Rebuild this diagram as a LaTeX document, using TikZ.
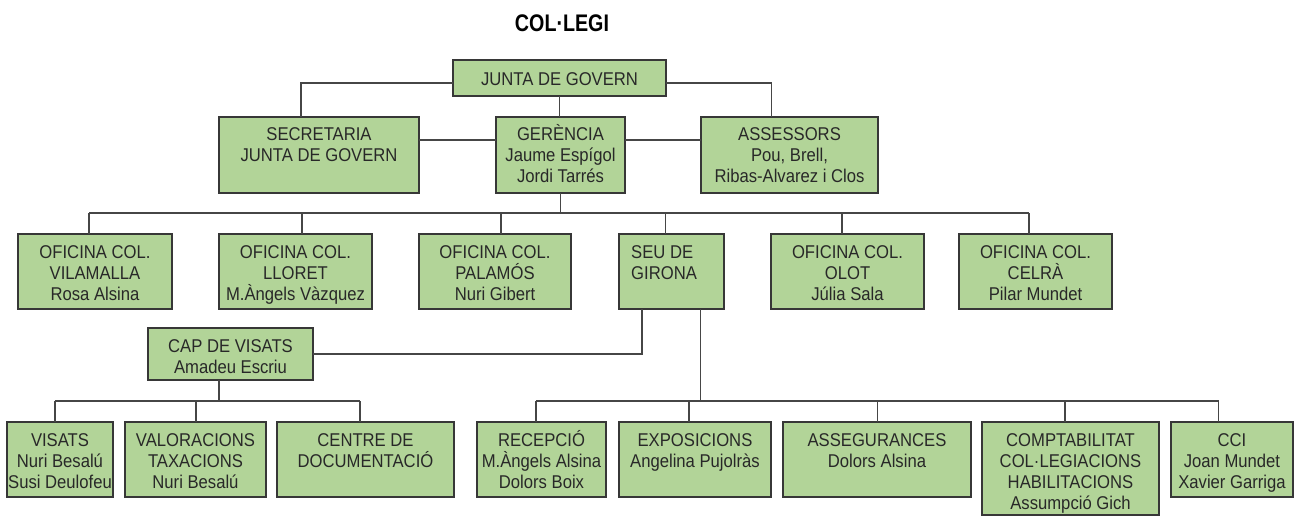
\documentclass[tikz,border=0pt]{standalone}
\usepackage{fontspec}
\usepackage{graphicx}
\setmainfont{Liberation Sans}[FakeStretch=0.9]
\newfontfamily\titlefont{Liberation Sans}[FakeStretch=0.82]
\definecolor{boxgreen}{RGB}{178,212,152}
\definecolor{boxline}{RGB}{55,55,55}
\definecolor{connline}{RGB}{70,70,70}
\definecolor{txtcol}{RGB}{40,40,40}
\newcommand\tstrut{\rule{0pt}{16pt}}
\tikzset{
  orgbox/.style={draw=boxline, line width=1.2pt, fill=boxgreen, inner sep=0pt, outer sep=0pt},
  orgtxt/.style={inner sep=0pt, align=center, text=txtcol, font=\fontsize{18.5}{21}\selectfont},
  conn/.style={draw=connline, line width=1.2pt}
}
\newcommand\obox[7][]{%
  \node[orgbox, minimum width={(#5-#3)*1pt}, minimum height={(#6-#4)*1pt}] (#2) at ({(#3+#5)/2},{(#4+#6)/2}) {};
  \node[orgtxt, anchor=north, #1] (#2t) at ([yshift=-8pt]#2.north) {\tstrut#7};
}
\begin{document}
\begin{tikzpicture}[x=1pt,y=-1pt]
\useasboundingbox (0,0) rectangle (1294,516);
\node[anchor=base, inner sep=0pt, font=\titlefont\bfseries\fontsize{24}{24}\selectfont, text=black] (title) at (562,32) {COL·LEGI};
% top
\obox[yshift=-1pt]{junta}{453}{60}{666}{96}{JUNTA DE GOVERN}
\obox[yshift=1pt]{sec}{219}{117}{419}{193}{SECRETARIA\\JUNTA DE GOVERN}
\obox[yshift=1pt]{ger}{496}{117}{625}{193}{GERÈNCIA\\Jaume Espígol\\Jordi Tarrés}
\obox[yshift=1pt]{ass}{701}{117}{878}{193}{ASSESSORS\\Pou, Brell,\\Ribas-Alvarez i Clos}
% row 2
\obox{vil}{18}{234}{172}{309}{OFICINA COL.\\VILAMALLA\\Rosa Alsina}
\obox{llo}{219}{234}{372}{309}{OFICINA COL.\\LLORET\\M.Àngels Vàzquez}
\obox{pal}{419}{234}{571}{309}{OFICINA COL.\\PALAMÓS\\Nuri Gibert}
\obox[anchor=north west, align=left, xshift=-40.5pt]{seu}{619}{234}{724}{309}{SEU DE\\GIRONA}
\obox{olo}{771}{234}{924}{309}{OFICINA COL.\\OLOT\\Júlia Sala}
\obox{cel}{959}{234}{1112}{309}{OFICINA COL.\\CELRÀ\\Pilar Mundet}
% cap
\obox{cap}{148}{328}{313}{380}{CAP DE VISATS\\Amadeu Escriu}
% row 3
\obox{vis}{7}{422}{113}{497}{VISATS\\Nuri Besalú\\Susi Deulofeu}
\obox{val}{125}{422}{266}{497}{VALORACIONS\\TAXACIONS\\Nuri Besalú}
\obox{cen}{277}{422}{454}{497}{CENTRE DE\\DOCUMENTACIÓ}
\obox{rec}{477}{422}{606}{497}{RECEPCIÓ\\M.Àngels Alsina\\Dolors Boix}
\obox{exp}{619}{422}{771}{497}{EXPOSICIONS\\Angelina Pujolràs}
\obox{asg}{783}{422}{971}{497}{ASSEGURANCES\\Dolors Alsina}
\obox{com}{982}{422}{1159}{515}{COMPTABILITAT\\COL·LEGIACIONS\\HABILITACIONS\\Assumpció Gich}
\obox{cci}{1171}{422}{1293}{497}{CCI\\Joan Mundet\\Xavier Garriga}
% connectors top
\draw[conn] ([yshift=-5pt]junta.west) -| ([xshift=-18pt]sec.north);
\draw[conn] ([yshift=-5pt]junta.east) -| ([xshift=-18pt]ass.north);
\draw[conn] (junta.south) -- (junta.south |- ger.north);
\draw[conn] ([yshift=15pt]sec.east) -- ([yshift=15pt]ger.west);
\draw[conn] ([yshift=15pt]ger.east) -- ([yshift=15pt]ass.west);
% row 2 bus
\coordinate (b2) at ([yshift=-20pt]ger.south);
\draw[conn] (ger.south) -- (b2);
\draw[conn] ([xshift=-6pt]vil.north |- b2) -- ([xshift=-6.5pt]cel.north |- b2);
\foreach \n/\dx in {vil/-6, llo/6.5, pal/6, seu/-6, olo/-5.5, cel/-6.5}
  \draw[conn] ([xshift=\dx pt]\n.north) -- ([xshift=\dx pt]\n.north |- b2);
% seu to cap
\draw[conn] ([xshift=-29.5pt]seu.south) |- (cap.east);
% row 3 buses
\coordinate (b3) at ([yshift=-21pt]cap.south);
\draw[conn] ([xshift=-11.5pt]cap.south) -- ([xshift=-11.5pt]cap.south |- b3);
\draw[conn] ([xshift=-5pt]vis.north |- b3) -- ([xshift=-5.5pt]cen.north |- b3);
\foreach \n/\dx in {vis/-5, val/0.5, cen/-5.5}
  \draw[conn] ([xshift=\dx pt]\n.north) -- ([xshift=\dx pt]\n.north |- b3);
\draw[conn] ([xshift=29pt]seu.south) -- ([xshift=29pt]seu.south |- b3);
\draw[conn] ([xshift=-5.5pt]rec.north |- b3) -- ([xshift=-13.5pt]cci.north |- b3);
\foreach \n/\dx in {rec/-5.5, exp/-6, asg/0.5, com/-5.5, cci/-13.5}
  \draw[conn] ([xshift=\dx pt]\n.north) -- ([xshift=\dx pt]\n.north |- b3);
\end{tikzpicture}
\end{document}
